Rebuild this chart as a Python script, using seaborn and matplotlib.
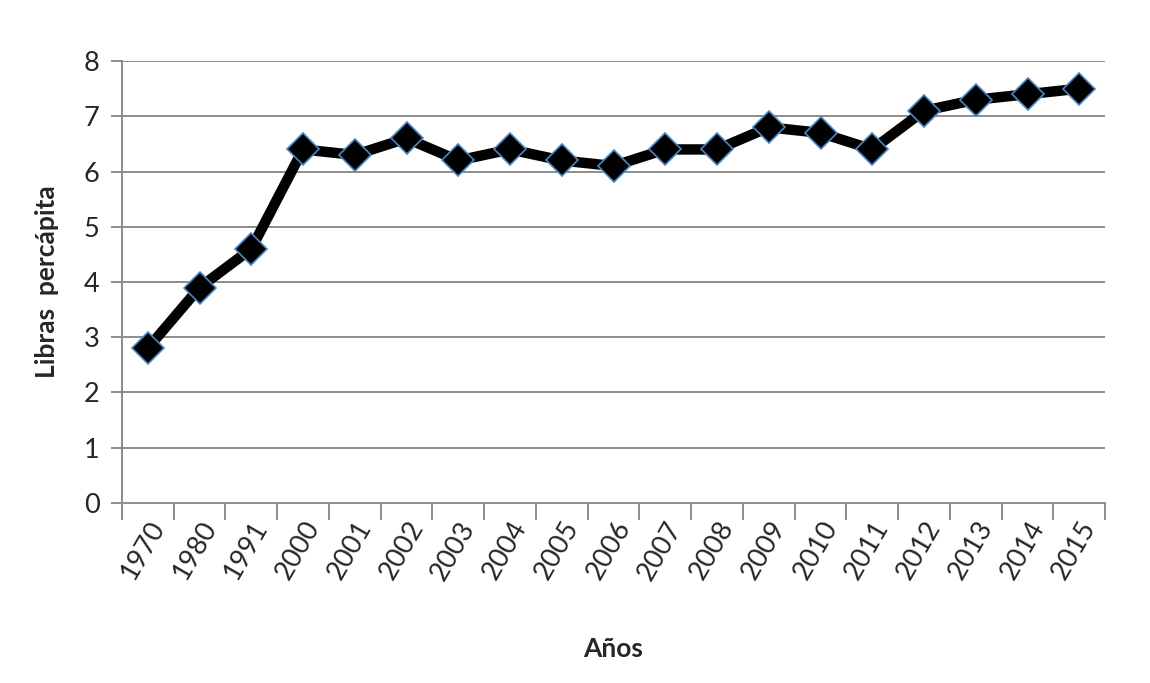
import matplotlib
matplotlib.use("Agg")
import matplotlib.pyplot as plt
import seaborn as sns
import pandas as pd
import numpy as np

years = ["1970", "1980", "1991", "2000", "2001", "2002", "2003", "2004", "2005",
         "2006", "2007", "2008", "2009", "2010", "2011", "2012", "2013", "2014", "2015"]
values = [2.8, 3.9, 4.6, 6.4, 6.3, 6.6, 6.2, 6.4, 6.2,
          6.1, 6.4, 6.4, 6.8, 6.7, 6.4, 7.1, 7.3, 7.4, 7.5]
y_ticks = [0, 1, 2, 3, 4, 5, 6, 7, 8]

df = pd.DataFrame({"Años": years, "Libras": values})

sns.set_theme(style="white")
plt.rcParams["font.family"] = ["Lato", "DejaVu Sans"]

fig = plt.figure(figsize=(11.5, 6.83), dpi=100)
ax = fig.add_axes([0.106, 0.2636, 0.855, 0.647])

grid_color = "#8c8c8c"
for v in y_ticks[1:]:
    ax.axhline(v, color=grid_color, lw=1.4, zorder=0)

sns.pointplot(data=df, x="Años", y="Libras", ax=ax, color="black",
              markers="D", markersize=16.5, linewidth=7.5,
              markeredgecolor="#4a86c5", markeredgewidth=1.2)

ax.set_ylim(0, 8)
ax.set_xlim(-0.5, len(years) - 0.5)
ax.set_yticks(y_ticks)
ax.set_yticklabels([str(v) for v in y_ticks], fontsize=19.5)

# category boundaries as major ticks, labels at centers as minor ticks
ax.set_xticks(np.arange(-0.5, len(years), 1.0))
ax.set_xticklabels([])
ax.set_xticks(np.arange(len(years)), minor=True)
ax.set_xticklabels(years, minor=True, rotation=60, ha="right", va="top",
                   rotation_mode="anchor", fontsize=19.5)
ax.tick_params(axis="x", which="major", length=12, width=1.4, color=grid_color, direction="out", bottom=True)
ax.tick_params(axis="x", which="minor", length=0, pad=10)
ax.tick_params(axis="y", length=8, width=1.4, color=grid_color, direction="out", left=True, pad=8)

for s in ["top", "right"]:
    ax.spines[s].set_visible(False)
for s in ["left", "bottom"]:
    ax.spines[s].set_color(grid_color)
    ax.spines[s].set_linewidth(1.4)

ax.set_xlabel("Años", fontsize=19, fontweight="bold", labelpad=38)
ax.set_ylabel("Libras  percápita", fontsize=19, fontweight="bold", labelpad=18)

fig.savefig("out.png", dpi=100)
